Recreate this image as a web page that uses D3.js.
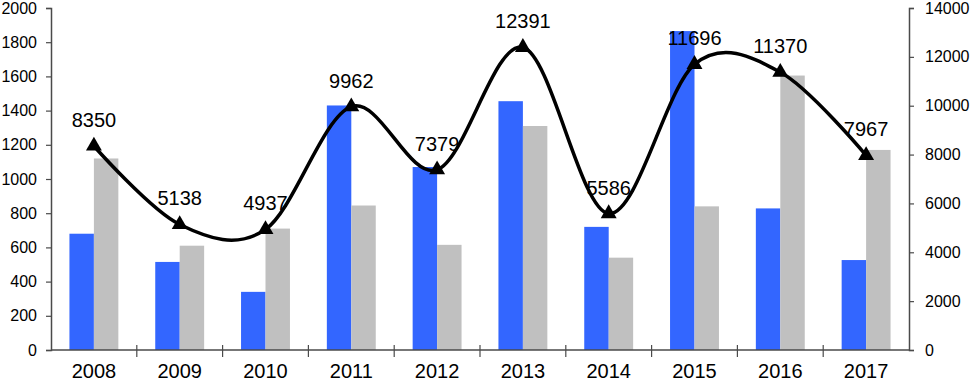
<!DOCTYPE html>
<html>
<head>
<meta charset="utf-8">
<script src="https://cdn.jsdelivr.net/npm/d3@7"></script>
<style>
  body { margin: 0; background: #fff; }
  svg { display: block; font-family: "Liberation Sans", Arial, sans-serif; }
</style>
</head>
<body>
<div id="chart"></div>
<script>
// data
const years = ["2008", "2009", "2010", "2011", "2012", "2013", "2014", "2015", "2016", "2017"];
const blueValues = [680, 515, 340, 1430, 1070, 1455, 720, 1865, 828, 526];
const grayValues = [1120, 610, 710, 845, 615, 1310, 540, 840, 1605, 1170];
const lineValues = [8350, 5138, 4937, 9962, 7379, 12391, 5586, 11696, 11370, 7967];
const leftTicks = [0, 200, 400, 600, 800, 1000, 1200, 1400, 1600, 1800, 2000];
const rightTicks = [0, 2000, 4000, 6000, 8000, 10000, 12000, 14000];

const width = 970, height = 383;
const margin = {top: 8, right: 61, bottom: 33, left: 51};
const w = width - margin.left - margin.right;
const h = height - margin.top - margin.bottom;

const svg = d3.select("#chart").append("svg")
    .attr("width", width)
    .attr("height", height);

const g = svg.append("g")
    .attr("transform", `translate(${margin.left},${margin.top})`);

const x = d3.scaleBand().domain(years).range([0, w]);
const yLeft = d3.scaleLinear().domain([0, 2000]).range([h, 0]);
const yRight = d3.scaleLinear().domain([0, 14000]).range([h, 0]);

const barW = x.bandwidth() * 0.285;
const axisColor = "#4a4a4a";

// bars
g.selectAll("rect.blue")
    .data(blueValues)
    .enter().append("rect")
    .attr("class", "blue")
    .attr("x", (d, i) => x(years[i]) + x.bandwidth() / 2 - barW)
    .attr("y", d => yLeft(d))
    .attr("width", barW)
    .attr("height", d => h - yLeft(d))
    .attr("fill", "#3366ff");

g.selectAll("rect.gray")
    .data(grayValues)
    .enter().append("rect")
    .attr("class", "gray")
    .attr("x", (d, i) => x(years[i]) + x.bandwidth() / 2)
    .attr("y", d => yLeft(d))
    .attr("width", barW)
    .attr("height", d => h - yLeft(d))
    .attr("fill", "#c0c0c0");

// left axis
const leftAxis = g.append("g")
    .call(d3.axisLeft(yLeft).tickValues(leftTicks).tickFormat(d3.format("d")).tickSize(5).tickPadding(9));
leftAxis.selectAll("text").attr("font-size", 16).attr("fill", "#000").style("font-family", "Liberation Sans, Arial, sans-serif");

// right axis
const rightAxis = g.append("g")
    .attr("transform", `translate(${w},0)`)
    .call(d3.axisRight(yRight).tickValues(rightTicks).tickFormat(d3.format("d")).tickSize(5).tickPadding(11));
rightAxis.selectAll("text").attr("font-size", 16).attr("fill", "#000").style("font-family", "Liberation Sans, Arial, sans-serif");

// bottom axis, ticks between categories
const bottom = g.append("g").attr("transform", `translate(0,${h})`);
bottom.append("line")
    .attr("x1", 0).attr("x2", w)
    .attr("stroke", axisColor).attr("stroke-width", 1.5);
bottom.selectAll("line.tick")
    .data(years.slice(1))
    .enter().append("line")
    .attr("class", "tick")
    .attr("x1", d => x(d)).attr("x2", d => x(d))
    .attr("y1", -5).attr("y2", 7)
    .attr("stroke", axisColor).attr("stroke-width", 1.2);
bottom.selectAll("text")
    .data(years)
    .enter().append("text")
    .attr("x", d => x(d) + x.bandwidth() / 2)
    .attr("y", 28)
    .attr("text-anchor", "middle")
    .attr("font-size", 20)
    .text(d => d);

[leftAxis, rightAxis].forEach(a => {
    a.select(".domain").attr("stroke", axisColor).attr("stroke-width", 1.5);
    a.selectAll(".tick line").attr("stroke", axisColor).attr("stroke-width", 1.2);
});

// smoothed line
const line = d3.line()
    .x((d, i) => x(years[i]) + x.bandwidth() / 2)
    .y(d => yRight(d))
    .curve(d3.curveCatmullRom.alpha(0));

g.append("path")
    .datum(lineValues)
    .attr("d", line)
    .attr("fill", "none")
    .attr("stroke", "#000")
    .attr("stroke-width", 3.5);

g.selectAll("path.marker")
    .data(lineValues)
    .enter().append("path")
    .attr("class", "marker")
    .attr("d", d3.symbol().type(d3.symbolTriangle).size(110))
    .attr("transform", (d, i) => `translate(${x(years[i]) + x.bandwidth() / 2},${yRight(d)})`)
    .attr("fill", "#000");

g.selectAll("text.label")
    .data(lineValues)
    .enter().append("text")
    .attr("class", "label")
    .attr("x", (d, i) => x(years[i]) + x.bandwidth() / 2)
    .attr("y", d => yRight(d) - 19)
    .attr("text-anchor", "middle")
    .attr("font-size", 20)
    .text(d => d);
</script>
</body>
</html>
